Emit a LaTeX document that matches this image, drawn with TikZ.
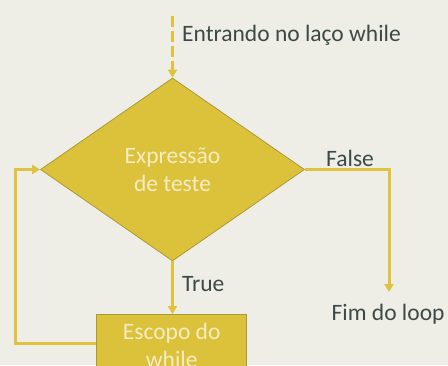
\documentclass[tikz,border=0pt]{standalone}
\usepackage{fontspec}
\setmainfont{Carlito}
\usetikzlibrary{shapes.geometric,arrows.meta,positioning}
\definecolor{bgcol}{HTML}{EEEEE6}
\definecolor{gold}{HTML}{DCC23A}
\definecolor{goldline}{HTML}{A99A38}
\definecolor{flowcol}{HTML}{E0C23E}
\definecolor{txtdark}{HTML}{3D4947}
\definecolor{txtlight}{HTML}{F3ECC4}
\begin{document}
\begin{tikzpicture}[x=1pt,y=-1pt,
    flow/.style={draw=flowcol, line width=3pt, -{Triangle[width=9pt,length=8pt]}},
    lbl/.style={text=txtdark, font=\fontsize{23.5}{28}\selectfont, inner sep=0pt},
    shapetxt/.style={fill=gold, draw=goldline, line width=0.8pt, text=txtlight,
        font=\fontsize{23.5}{28}\selectfont, align=center, inner sep=0pt}]
    \clip (0,0) rectangle (448,365);
    \fill[bgcol] (0,0) rectangle (448,365);
    \coordinate (start) at (172.5,16);
    \node[shapetxt, diamond, minimum width=264pt, minimum height=183pt] (cond) at (172.5,169.5) {Expressão\\de teste};
    \node[shapetxt, minimum width=150pt, minimum height=62pt] (body) at (171.7,345.5) {Escopo do\\while};
    \coordinate (out) at (389,292);
    \coordinate (back) at (15,343);
    \node[lbl, anchor=base west] (entra) at (182,41.5) {Entrando no laço while};
    \node[lbl, anchor=base west] (verdade) at (182,291) {True};
    \node[lbl, anchor=base west] (falso) at (326,166.5) {False};
    \node[lbl, anchor=base west] (fim) at (331.5,320) {Fim do loop};
    \draw[flow, dash pattern=on 11pt off 4pt] (start) -- (cond.north);
    \draw[flow] (cond.south) -- (cond.south |- body.north);
    \draw[flow] (cond.east) -| (out);
    \draw[flow] (body.west |- back) -- (back) -- (back |- cond.west) -- (cond.west);
\end{tikzpicture}
\end{document}
